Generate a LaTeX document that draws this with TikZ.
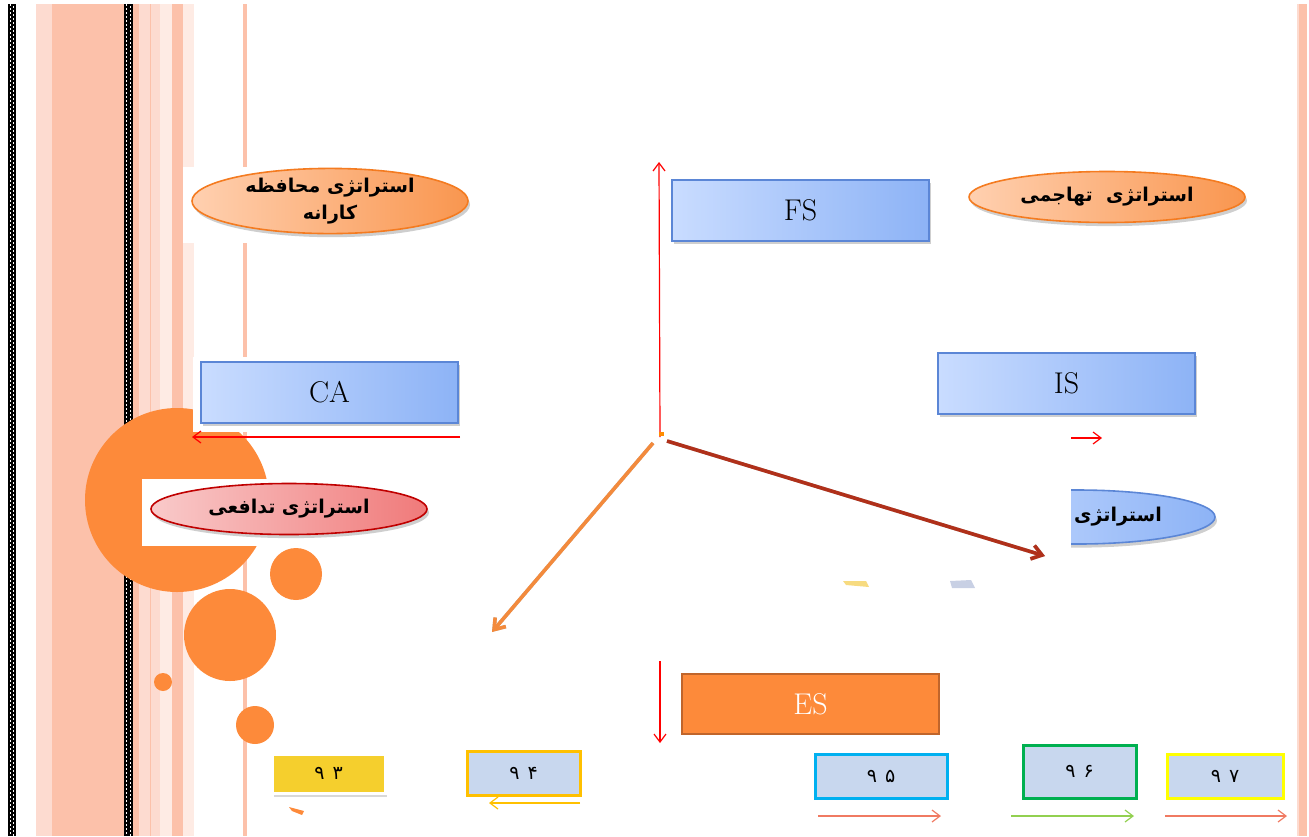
\documentclass[tikz,border=0pt]{standalone}
\usepackage{fontspec}
\usepackage{tikz}
\usetikzlibrary{arrows.meta,shapes.geometric,shadows}
\newfontfamily\fafont[Script=Arabic]{DejaVu Sans}
\TeXXeTstate=1
\definecolor{salmon}{HTML}{FCC1AA}
\definecolor{salmonL}{HTML}{FDDBD0}
\definecolor{salmonVL}{HTML}{FEEBE4}
\definecolor{dotorange}{HTML}{FD8A3A}
\definecolor{boxlight}{HTML}{C9DCFF}
\definecolor{boxdark}{HTML}{8DB3F6}
\definecolor{boxedge}{HTML}{5B86D6}
\definecolor{yearfill}{HTML}{C8D7EE}
\definecolor{esedge}{HTML}{C0652B}
\definecolor{darkarrow}{HTML}{B0301A}
\definecolor{orangearrow}{HTML}{F38A3C}
\definecolor{linesalmon}{HTML}{F07A62}
\definecolor{linegreen}{HTML}{92D050}
\definecolor{peachedge}{HTML}{F47B20}
\definecolor{peachL}{HTML}{FFD0B0}
\definecolor{peachD}{HTML}{F9964F}
\definecolor{pinkedge}{HTML}{C00000}
\definecolor{pinkL}{HTML}{F9CACA}
\definecolor{pinkD}{HTML}{F07A7A}
\definecolor{gold}{HTML}{FFC000}
\definecolor{sky}{HTML}{00B0F0}
\definecolor{grass}{HTML}{00B050}
\definecolor{lemon}{HTML}{FFFF00}
\definecolor{mustard}{HTML}{F5CF2D}
\definecolor{paleyellow}{HTML}{F7DB80}
\definecolor{palegray}{HTML}{C8D0E4}

\begin{document}
\begin{tikzpicture}[x=0.5pt,y=-0.5pt,
  stratbox/.style={rectangle, draw=boxedge, line width=0.7pt, left color=boxlight, right color=boxdark,
    minimum width=128.5pt, minimum height=30.5pt, inner sep=0pt, font=\fontsize{15}{17}\selectfont,
    drop shadow={fill=gray!75, shadow xshift=0.8pt, shadow yshift=-1.4pt}},
  stratell/.style={ellipse, line width=0.8pt, minimum width=138pt, minimum height=28pt, inner sep=0pt,
    font=\fafont\bfseries\fontsize{9.5}{13.5}\selectfont, align=center,
    drop shadow={fill=gray!75, shadow xshift=1pt, shadow yshift=-1.8pt}},
  yearbox/.style={rectangle, fill=yearfill, line width=1.5pt, inner sep=0pt,
    font=\fafont\fontsize{9.5}{11}\selectfont},
  thinarrow/.style={red, line width=0.6pt, -{Straight Barb[length=4pt,width=6pt]}},
  yeararrow/.style={line width=0.6pt, -{Straight Barb[length=4pt,width=6pt]}},
  bigarrow/.style={line width=1.8pt, -{Straight Barb[length=5pt,width=7pt]}}]

\useasboundingbox (0,0) rectangle (1309,836);

% side stripes
\fill[salmonL] (36,4) rectangle (52,836);
\fill[salmon] (52,4) rectangle (124,836);
\fill[salmon] (133,4) rectangle (139,836);
\fill[salmonL] (139,4) rectangle (160,836);
\fill[salmon] (150,4) rectangle (151,836);
\fill[salmonVL] (160,4) rectangle (172,836);
\fill[salmon] (172,4) rectangle (183,836);
\fill[salmonVL] (183,4) rectangle (194,836);
\fill[salmon] (243,4) rectangle (247,836);
\fill[salmonL] (1297,4) rectangle (1299,836);
\fill[salmon] (1299,4) rectangle (1307,836);
\fill[black] (8,4) rectangle (16,836);
\draw[white, line width=0.6pt, dash pattern=on 0.8pt off 1.2pt] (10.2,4) -- (10.2,836);
\draw[white, line width=0.6pt, dash pattern=on 0.8pt off 1.2pt, dash phase=1pt] (13.8,4) -- (13.8,836);
\fill[black] (124,4) rectangle (133,836);
\draw[white, line width=0.6pt, dash pattern=on 0.8pt off 1.2pt] (126.7,4) -- (126.7,836);
\draw[white, line width=0.6pt, dash pattern=on 0.8pt off 1.2pt, dash phase=1pt] (130.3,4) -- (130.3,836);

% circles
\fill[dotorange] (177,500) circle (46pt);
\fill[dotorange] (296,574) circle (13pt);
\fill[dotorange] (230,635) circle (23pt);
\fill[dotorange] (163,682) circle (4.5pt);
\fill[dotorange] (255,725) circle (9.5pt);

% white grounds
\fill[white] (183,167) rectangle (470,243);
\fill[white] (193,357) rectangle (462,432);
\fill[white] (142,479) rectangle (440,546);

% strategies
\node[stratell, minimum height=31pt, draw=peachedge, left color=peachL, right color=peachD]
  (conserv) at (330,201) {\beginR استراتژی محافظه\endR\\\beginR کارانه\endR};
\node[stratell, minimum height=25.5pt, draw=peachedge, left color=peachL, right color=peachD]
  (aggress) at (1107,197) {\beginR استراتژی\ \ تهاجمی\endR};
\node[stratell, minimum height=25.5pt, draw=pinkedge, left color=pinkL, right color=pinkD]
  (defens) at (289,509) {\beginR استراتژی تدافعی\endR};
\begin{scope}
  \clip (1071,470) rectangle (1240,560);
  \node[stratell, minimum height=27pt, draw=boxedge, left color=boxlight, right color=boxdark] (compet) at (1077,517) {};
\end{scope}
\node[font=\fafont\bfseries\fontsize{9.5}{12}\selectfont] (competlbl) at (1118,517) {\beginR استراتژی\endR};

\node[stratbox] (fs) at (800.5,210.5) {FS};
\node[stratbox] (ca) at (329.5,392.5) {CA};
\node[stratbox] (is) at (1066.5,383.5) {IS};
\node[rectangle, draw=esedge, line width=1.3pt, fill=dotorange, text=white, minimum width=128.5pt, minimum height=30pt,
  inner sep=0pt, font=\fontsize{15}{17}\selectfont] (es) at (810.5,704) {ES};

% axes
\coordinate (o) at (660,437);
\coordinate (fstop) at (659,162);
\coordinate (caR) at (460,437);
\coordinate (caL) at (192,437);
\coordinate (isL) at (1071,438);
\coordinate (isR) at (1102,438);
\coordinate (esT) at (660,661);
\coordinate (esB) at (660,743);
\coordinate (swA) at (653,443);
\coordinate (swB) at (492,632);
\coordinate (seA) at (667,441);
\coordinate (seB) at (1045,556);
\draw[thinarrow] (o) -- (fstop);
\draw[thinarrow] (caR) -- (caL);
\draw[thinarrow] (isL) -- (isR);
\draw[thinarrow] (esT) -- (esB);
\draw[bigarrow, gray!50, shift={(2,3)}] (swA) -- (swB);
\draw[bigarrow, orangearrow] (swA) -- (swB);
\draw[bigarrow, gray!50, shift={(2,3)}] (seA) -- (seB);
\draw[bigarrow, darkarrow] (seA) -- (seB);
\fill[orange!90!yellow] (659,432) rectangle (664,436);

% years
\node[yearbox, fill=mustard, draw=white, minimum width=56.5pt, minimum height=19.5pt,
  drop shadow={fill=gray!60, shadow xshift=0.8pt, shadow yshift=-2pt}] (y93) at (328.5,773.5) {۹\kern4pt۳};
\node[yearbox, draw=gold, minimum width=56.5pt, minimum height=22pt] (y94) at (523.5,773) {۹\kern4pt۴};
\node[yearbox, draw=sky, minimum width=66pt, minimum height=22pt] (y95) at (881,776) {۹\kern4pt۵};
\node[yearbox, draw=grass, minimum width=56.5pt, minimum height=26.5pt] (y96) at (1079.5,771.5) {۹\kern4pt۶};
\node[yearbox, draw=lemon, minimum width=58pt, minimum height=22pt] (y97) at (1225,776) {۹\kern4pt۷};

\coordinate (a94R) at (580,803);
\coordinate (a94L) at (489,803);
\coordinate (a95L) at (818,816);
\coordinate (a95R) at (941,816);
\coordinate (a96L) at (1011,816);
\coordinate (a96R) at (1134,816);
\coordinate (a97L) at (1165,816);
\coordinate (a97R) at (1287,816);
\draw[yeararrow, gold] (a94R) -- (a94L);
\draw[yeararrow, linesalmon] (a95L) -- (a95R);
\draw[yeararrow, linegreen] (a96L) -- (a96R);
\draw[yeararrow, linesalmon] (a97L) -- (a97R);

% stray pieces
\fill[dotorange] (289,807) -- (304,811) -- (302,815) -- (292,811) -- cycle;
\fill[paleyellow] (843,581) -- (866,581) -- (869,587) -- (846,585) -- cycle;
\fill[palegray] (950,581) -- (971,580) -- (975,588) -- (952,588) -- cycle;

\end{tikzpicture}
\end{document}
